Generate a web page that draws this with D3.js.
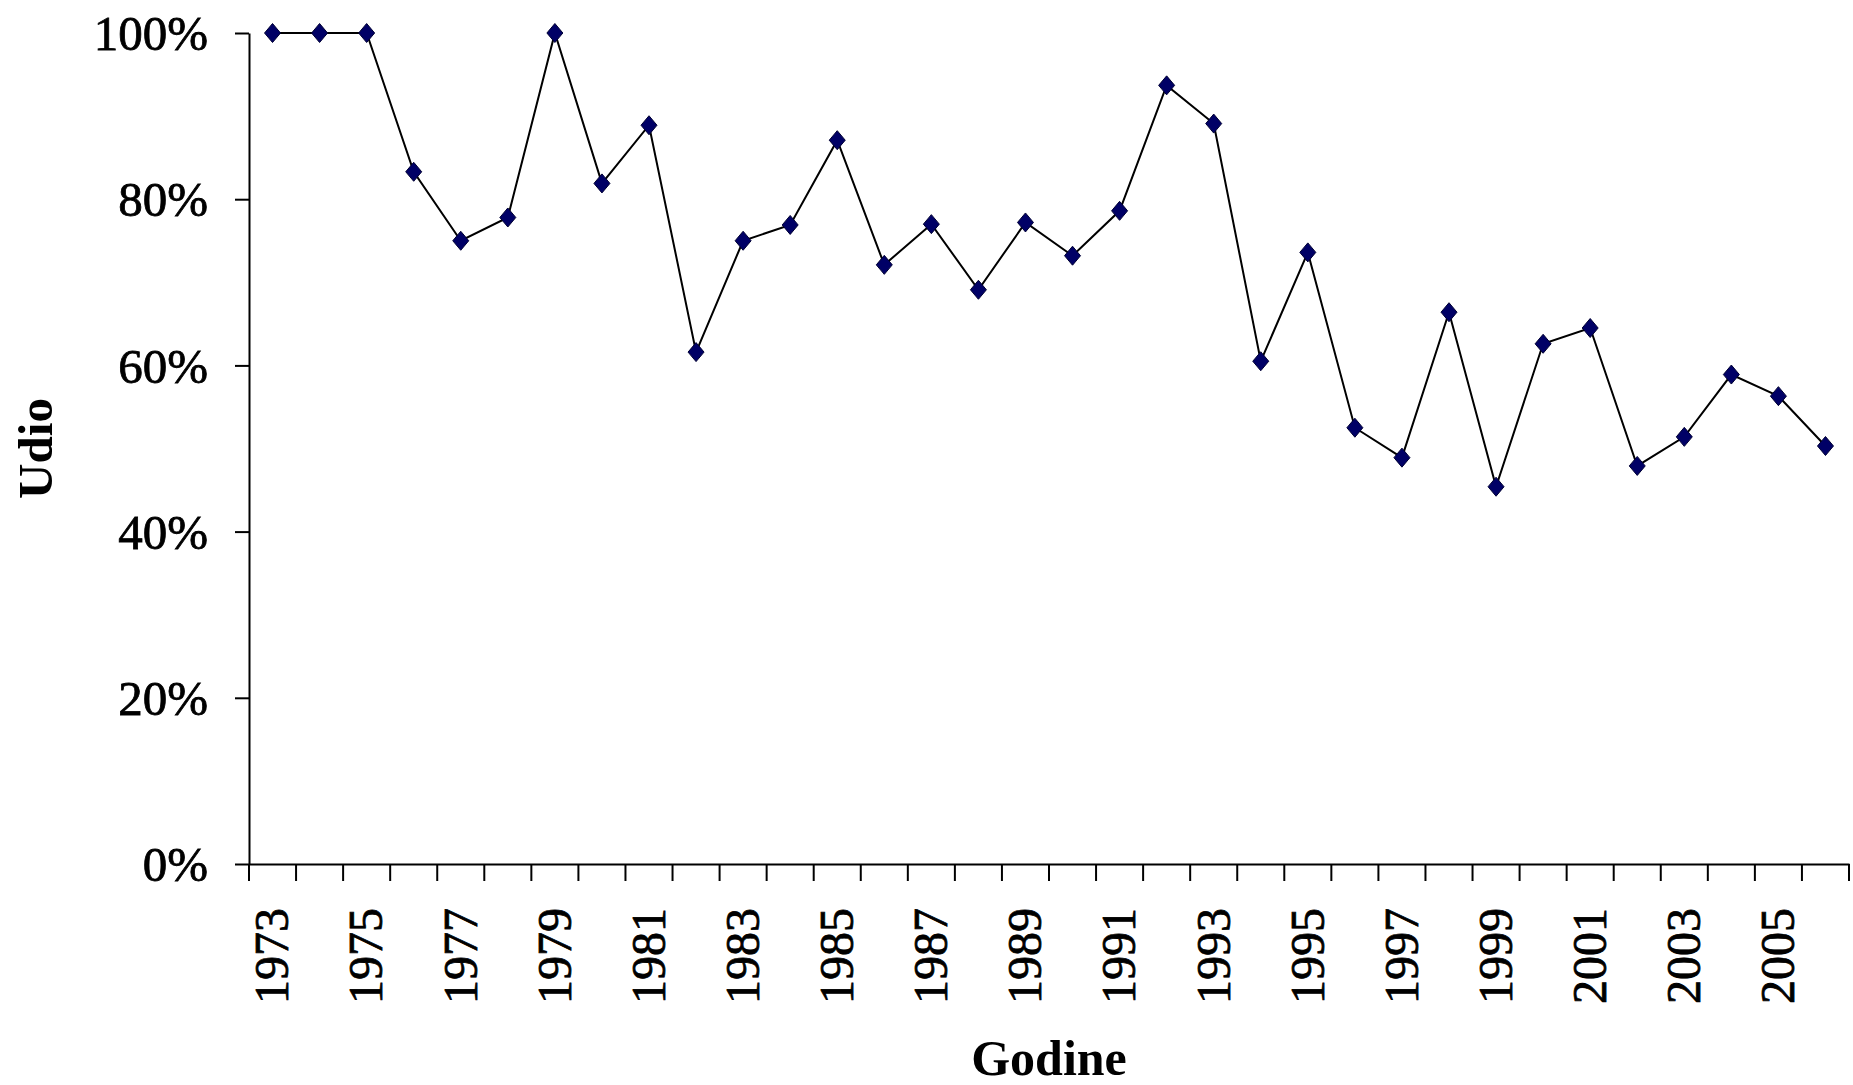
<!DOCTYPE html>
<html>
<head>
<meta charset="utf-8">
<script src="https://cdn.jsdelivr.net/npm/d3@7"></script>
<style>
  html, body { margin: 0; padding: 0; background: #fff; }
  svg text { font-family: "Liberation Serif", "Times New Roman", serif; fill: #000; }
</style>
</head>
<body>
<div id="chart"></div>
<script>
// share per year (Udio)
var years = [1973, 1974, 1975, 1976, 1977, 1978, 1979, 1980, 1981, 1982,
             1983, 1984, 1985, 1986, 1987, 1988, 1989, 1990, 1991, 1992,
             1993, 1994, 1995, 1996, 1997, 1998, 1999, 2000, 2001, 2002,
             2003, 2004, 2005, 2006];
var udio = [1.000, 1.000, 1.000, 0.833, 0.750, 0.778, 1.000, 0.819, 0.889, 0.616,
            0.750, 0.769, 0.871, 0.721, 0.770, 0.691, 0.772, 0.732, 0.786, 0.937,
            0.891, 0.605, 0.736, 0.525, 0.489, 0.664, 0.454, 0.626, 0.645, 0.479,
            0.514, 0.589, 0.563, 0.503];
var yTicks = [0, 0.2, 0.4, 0.6, 0.8, 1.0];
var yTitle = "Udio";
var xTitle = "Godine";

var width = 1853, height = 1085;
// note: "top" is taken by window.top, so plot edges get their own names
var plotLeft = 249, plotRight = 1849, plotTop = 33, plotBottom = 864;

var svg = d3.select("#chart").append("svg")
  .attr("width", width)
  .attr("height", height);

var data = years.map(function (y, i) { return { year: y, value: udio[i] }; });

var x = d3.scaleBand().domain(years).range([plotLeft, plotRight]).padding(0);
var y = d3.scaleLinear().domain([0, 1]).range([plotBottom, plotTop]);

// y axis
var yAxis = svg.append("g")
  .attr("transform", "translate(" + plotLeft + ",0)")
  .call(d3.axisLeft(y)
    .tickValues(yTicks)
    .tickFormat(d3.format(".0%"))
    .tickSize(14)
    .tickSizeOuter(0)
    .tickPadding(27));
yAxis.select(".domain").attr("stroke", "#000").attr("stroke-width", 2);
yAxis.selectAll(".tick line").attr("stroke", "#000").attr("stroke-width", 2);
yAxis.selectAll(".tick text")
  .style("font-size", "49px")
  .style("stroke", "#000")
  .style("stroke-width", "0.8px")
  .attr("dy", "0.34em");

// x axis: labels on every other year, ticks between categories
var xAxis = svg.append("g")
  .attr("transform", "translate(0," + plotBottom + ")")
  .call(d3.axisBottom(x)
    .tickFormat(function (d, i) { return i % 2 === 0 ? d : ""; })
    .tickSize(0)
    .tickSizeOuter(0));
xAxis.select(".domain").attr("stroke", "#000").attr("stroke-width", 2);
xAxis.selectAll(".tick text")
  .style("font-size", "48px")
  .style("text-anchor", "end")
  .style("stroke", "#000")
  .style("stroke-width", "0.8px")
  .attr("transform", "rotate(-90)")
  .attr("x", -44)
  .attr("y", 0)
  .attr("dy", "0.33em");

var bounds = years.map(function (d) { return x(d); }).concat([x.range()[1]]);
xAxis.selectAll(".cat-tick")
  .data(bounds)
  .enter().append("line")
    .attr("class", "cat-tick")
    .attr("x1", function (d) { return d; })
    .attr("x2", function (d) { return d; })
    .attr("y1", 0)
    .attr("y2", 17)
    .attr("stroke", "#000")
    .attr("stroke-width", 2);

// axis titles
svg.append("text")
  .attr("transform", "translate(52," + (plotTop + plotBottom) / 2 + ") rotate(-90)")
  .style("text-anchor", "middle")
  .style("font-size", "49px")
  .style("font-weight", "bold")
  .text(yTitle);

svg.append("text")
  .attr("x", (plotLeft + plotRight) / 2)
  .attr("y", 1075)
  .style("text-anchor", "middle")
  .style("font-size", "50px")
  .style("font-weight", "bold")
  .text(xTitle);

// line + diamond markers
var cx = function (d) { return x(d.year) + x.bandwidth() / 2; };

svg.append("path")
  .datum(data)
  .attr("fill", "none")
  .attr("stroke", "#000")
  .attr("stroke-width", 2)
  .attr("d", d3.line().x(cx).y(function (d) { return y(d.value); }));

svg.selectAll(".marker")
  .data(data)
  .enter().append("path")
    .attr("class", "marker")
    .attr("transform", function (d) { return "translate(" + cx(d) + "," + y(d.value) + ")"; })
    .attr("d", "M0,-9.5L8,0L0,9.5L-8,0Z")
    .attr("fill", "#000066")
    .attr("stroke", "#000033")
    .attr("stroke-width", 1);
</script>
</body>
</html>
